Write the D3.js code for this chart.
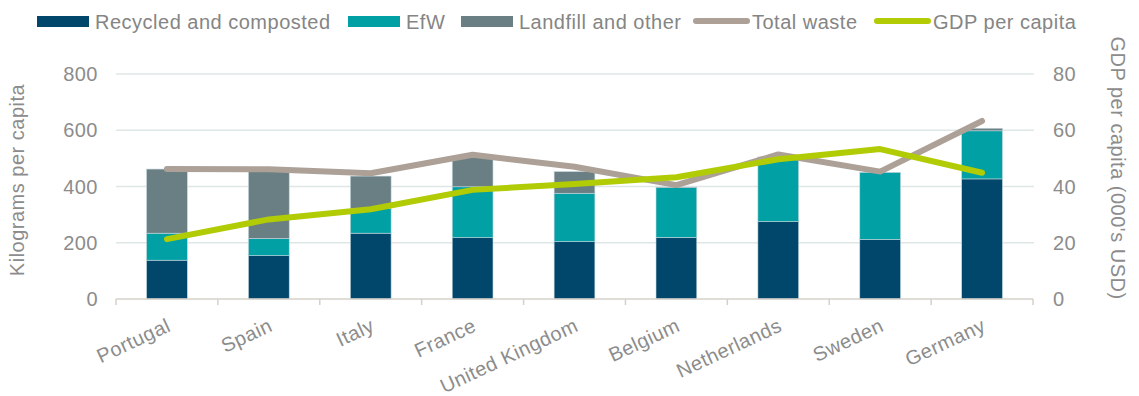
<!DOCTYPE html>
<html lang="en">
<head>
<meta charset="UTF-8">
<title>Waste per capita</title>
<script src="https://d3js.org/d3.v7.min.js"></script>
<style>
    body { margin: 0; background: #fff; font-family: "Liberation Sans", Arial, sans-serif; }
    svg { display: block; }
    .tick-label { fill: #8c8c8c; font-size: 20px; letter-spacing: 0.5px; }
    .axis-title { fill: #8c8c8c; font-size: 20px; letter-spacing: 0.5px; }
    .legend-text { fill: #858585; font-size: 20px; letter-spacing: 0.5px; }
</style>
</head>
<body>
<div id="chart"></div>
<script>
const countries = ["Portugal", "Spain", "Italy", "France", "United Kingdom", "Belgium", "Netherlands", "Sweden", "Germany"];
const recycled = [138, 154, 234, 218, 204, 219, 275, 212, 427];
const efw = [96, 61, 87, 181, 172, 177, 222, 238, 171];
const landfill = [228, 238, 116, 107, 77, 2, 8, 0, 9];
const totalWaste = [462, 461, 447, 513, 470, 405, 514, 453, 633];
const gdp = [21.3, 28.3, 31.9, 38.8, 40.9, 43.3, 49.7, 53.3, 44.9];
const leftTicks = [0, 200, 400, 600, 800];
const rightTicks = [0, 20, 40, 60, 80];

const W = 1139, H = 396;
const colors = { recycled: "#00476b", efw: "#00a0a4", landfill: "#6a7f83", total: "#aca097", gdp: "#b1cb05" };

const svg = d3.select("#chart").append("svg").attr("width", W).attr("height", H);

const x = d3.scaleBand().domain(countries).range([116, 1033]).paddingInner(0.6).paddingOuter(0.3);
const y = d3.scaleLinear().domain([0, 800]).range([299, 74]);
const y2 = d3.scaleLinear().domain([0, 80]).range([299, 74]);

// gridlines
svg.append("g").selectAll("line").data(leftTicks.filter(d => d > 0)).join("line")
    .attr("x1", 116).attr("x2", 1034)
    .attr("y1", d => y(d)).attr("y2", d => y(d))
    .attr("stroke", "#dfe6e6").attr("stroke-width", 1.5);

// left tick labels
svg.append("g").selectAll("text").data(leftTicks).join("text")
    .attr("class", "tick-label")
    .attr("x", 98).attr("y", d => y(d)).attr("dy", "0.35em")
    .attr("text-anchor", "end").text(d => d);

// right tick labels
svg.append("g").selectAll("text").data(rightTicks).join("text")
    .attr("class", "tick-label")
    .attr("x", 1053).attr("y", d => y2(d)).attr("dy", "0.35em")
    .attr("text-anchor", "start").text(d => d);

// stacked bars
const rows = countries.map((c, i) => ({ country: c, recycled: recycled[i], efw: efw[i], landfill: landfill[i] }));
const stack = d3.stack().keys(["recycled", "efw", "landfill"])(rows);
svg.append("g").selectAll("g").data(stack).join("g")
    .attr("fill", d => colors[d.key])
    .selectAll("rect").data(d => d).join("rect")
    .attr("x", d => x(d.data.country))
    .attr("width", x.bandwidth())
    .attr("y", d => y(d[1]))
    .attr("height", d => y(d[0]) - y(d[1]))
    .attr("stroke", "#c3d6dc").attr("stroke-width", 0.6);

// x axis line with boundary ticks
const step = x.step(), gap = step - x.bandwidth();
const bounds = countries.map(c => x(c) - gap / 2).concat([x(countries[countries.length - 1]) + x.bandwidth() + gap / 2]);
svg.append("line").attr("x1", 116).attr("x2", 1033).attr("y1", 299).attr("y2", 299)
    .attr("stroke", "#d6d0ca").attr("stroke-width", 1.5);
svg.append("g").selectAll("line").data(bounds).join("line")
    .attr("x1", d => d).attr("x2", d => d).attr("y1", 299).attr("y2", 305)
    .attr("stroke", "#d6d0ca").attr("stroke-width", 1.5);

// x labels
svg.append("g").selectAll("text").data(countries).join("text")
    .attr("class", "tick-label")
    .attr("text-anchor", "end")
    .attr("transform", d => `translate(${x(d) + x.bandwidth() / 2 + 2},324) rotate(-25)`)
    .attr("dy", "0.35em")
    .text(d => d);

// lines
const cx = i => x(countries[i]) + x.bandwidth() / 2;
const totalLine = d3.line().x((d, i) => cx(i)).y(d => y(d));
const gdpLine = d3.line().x((d, i) => cx(i)).y(d => y2(d));
svg.append("path").datum(totalWaste).attr("d", totalLine)
    .attr("fill", "none").attr("stroke", colors.total).attr("stroke-width", 6)
    .attr("stroke-linecap", "round").attr("stroke-linejoin", "round");
svg.append("path").datum(gdp).attr("d", gdpLine)
    .attr("fill", "none").attr("stroke", colors.gdp).attr("stroke-width", 6)
    .attr("stroke-linecap", "round").attr("stroke-linejoin", "round");

// axis titles
svg.append("text").attr("class", "axis-title")
    .attr("transform", "translate(24,180) rotate(-90)")
    .attr("text-anchor", "middle").text("Kilograms per capita");
svg.append("text").attr("class", "axis-title")
    .attr("transform", "translate(1111,168) rotate(90)")
    .attr("text-anchor", "middle").text("GDP per capita (000's USD)");

// legend
const legend = [
    { label: "Recycled and composted", type: "rect", color: colors.recycled, x: 37 },
    { label: "EfW", type: "rect", color: colors.efw, x: 348 },
    { label: "Landfill and other", type: "rect", color: colors.landfill, x: 461 },
    { label: "Total waste", type: "line", color: colors.total, x: 693 },
    { label: "GDP per capita", type: "line", color: colors.gdp, x: 874 }
];
const lg = svg.append("g").selectAll("g").data(legend).join("g")
    .attr("transform", d => `translate(${d.x},21)`);
lg.filter(d => d.type === "rect").append("rect")
    .attr("x", 0).attr("y", -5).attr("width", 52).attr("height", 11).attr("fill", d => d.color);
lg.filter(d => d.type === "line").append("line")
    .attr("x1", 3).attr("x2", 54).attr("y1", 0).attr("y2", 0)
    .attr("stroke", d => d.color).attr("stroke-width", 6).attr("stroke-linecap", "round");
lg.append("text").attr("class", "legend-text")
    .attr("x", d => d.type === "rect" ? 58 : 59).attr("y", 1).attr("dy", "0.35em")
    .text(d => d.label);
</script>
</body>
</html>
